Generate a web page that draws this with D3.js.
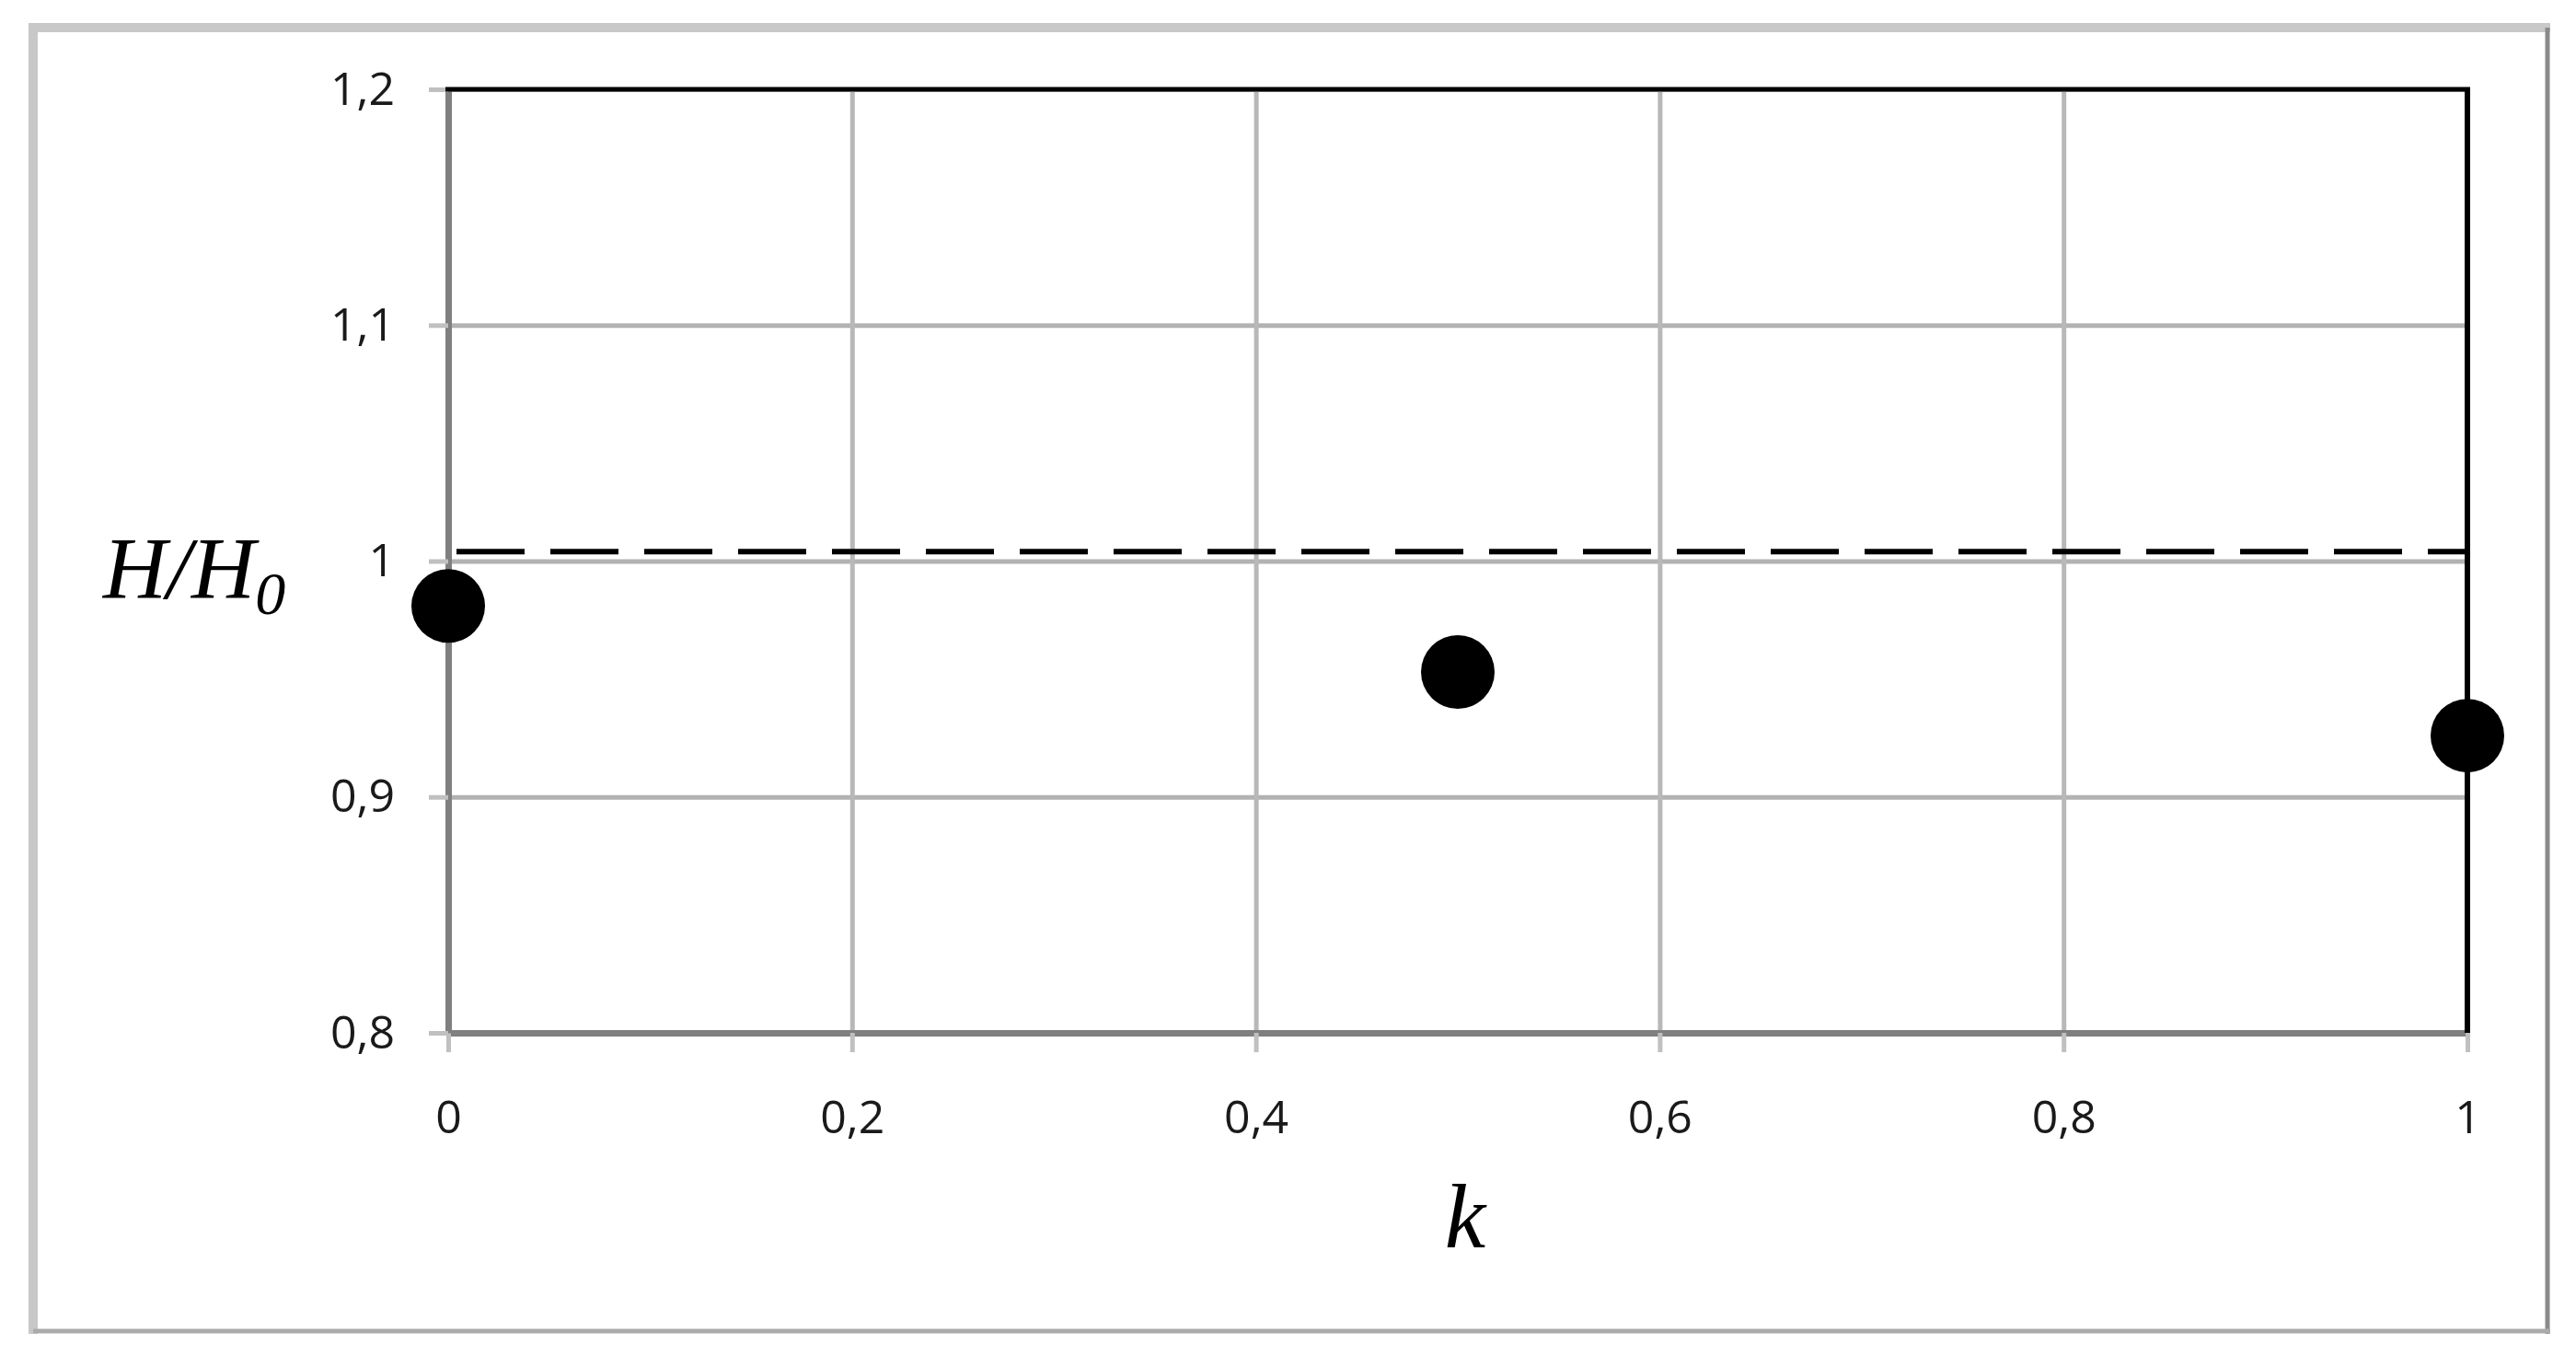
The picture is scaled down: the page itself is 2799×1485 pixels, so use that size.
<!DOCTYPE html>
<html>
<head>
<meta charset="utf-8">
<script src="https://cdn.jsdelivr.net/npm/d3@7"></script>
<style>
  body { margin: 0; background: #fff; }
  .tick text { font-family: "Open Sans", sans-serif; fill: #1a1a1a; }
</style>
</head>
<body>
<div id="chart"></div>
<script>
// measured points H/H0 against k
const kValues = [0, 0.5, 1];
const ratioValues = [0.981, 0.953, 0.926];

// dashed reference level
const refK = [0, 1];
const refRatio = [1.004, 1.004];

const xTicks = [0, 0.2, 0.4, 0.6, 0.8, 1];
const yTicks = [0.8, 0.9, 1.0, 1.1, 1.2];
const fmt = d => String(+d.toFixed(1)).replace(".", ",");

const W = 2799, H = 1485;
const margin = { top: 97, right: 118, bottom: 363, left: 487 };
const width = W - margin.left - margin.right;
const height = H - margin.top - margin.bottom;

const svgRoot = d3.select("#chart").append("svg")
  .attr("width", W)
  .attr("height", H);

// outer frame (light left/top, darker right/bottom)
svgRoot.append("line").attr("x1", 36).attr("x2", 36).attr("y1", 25).attr("y2", 1449)
  .attr("stroke", "#c8c8c8").attr("stroke-width", 10);
svgRoot.append("line").attr("x1", 31).attr("x2", 2771).attr("y1", 30).attr("y2", 30)
  .attr("stroke", "#c8c8c8").attr("stroke-width", 10);
svgRoot.append("line").attr("x1", 2768).attr("x2", 2768).attr("y1", 30).attr("y2", 1449)
  .attr("stroke", "#8a8a8a").attr("stroke-width", 5);
svgRoot.append("line").attr("x1", 36).attr("x2", 2771).attr("y1", 1446).attr("y2", 1446)
  .attr("stroke", "#ababab").attr("stroke-width", 5);

const svg = svgRoot.append("g")
  .attr("transform", "translate(" + margin.left + "," + margin.top + ")");

const x = d3.scaleLinear().domain([0, 1]).range([0, width]);
const y = d3.scaleLinear().domain([0.8, 1.2]).range([height, 0]);

// grid
svg.append("g")
  .attr("class", "grid")
  .call(d3.axisLeft(y).tickValues(yTicks).tickSize(-width).tickFormat(""))
  .call(g => g.select(".domain").remove())
  .call(g => g.selectAll("line").attr("stroke", "#b2b2b2").attr("stroke-width", 5));
svg.append("g")
  .attr("class", "grid")
  .attr("transform", "translate(0," + height + ")")
  .call(d3.axisBottom(x).tickValues(xTicks).tickSize(height).tickFormat(""))
  .call(g => g.select(".domain").remove())
  .call(g => g.selectAll("line").attr("y2", -height).attr("stroke", "#b8b8b8").attr("stroke-width", 5));

// axes
svg.append("g")
  .attr("transform", "translate(0," + height + ")")
  .call(d3.axisBottom(x).tickValues(xTicks).tickFormat(fmt).tickSize(21).tickPadding(52).tickSizeOuter(0))
  .call(g => g.select(".domain").attr("stroke", "#7f7f7f").attr("stroke-width", 7))
  .call(g => g.selectAll(".tick line").attr("stroke", "#c0c0c0").attr("stroke-width", 5))
  .call(g => g.selectAll(".tick text").style("font-size", "50px"));

svg.append("g")
  .call(d3.axisLeft(y).tickValues(yTicks).tickFormat(fmt).tickSize(21).tickPadding(37).tickSizeOuter(0))
  .call(g => g.select(".domain").attr("stroke", "#7f7f7f").attr("stroke-width", 7))
  .call(g => g.selectAll(".tick line").attr("stroke", "#c0c0c0").attr("stroke-width", 5))
  .call(g => g.selectAll(".tick text").style("font-size", "50px"));

// top and right border in black
svg.append("line")
  .attr("x1", x(0) - 3).attr("x2", x(1) + 3)
  .attr("y1", y(1.2)).attr("y2", y(1.2))
  .attr("stroke", "#000").attr("stroke-width", 5);
svg.append("line")
  .attr("x1", x(1)).attr("x2", x(1))
  .attr("y1", y(1.2)).attr("y2", y(0.8))
  .attr("stroke", "#000").attr("stroke-width", 6);

// dashed reference line
const refData = refK.map((k, i) => ({ k: k, v: refRatio[i] }));
svg.append("path")
  .datum(refData)
  .attr("fill", "none")
  .attr("stroke", "#000")
  .attr("stroke-width", 6)
  .attr("stroke-dasharray", "74,28")
  .attr("stroke-dashoffset", -9)
  .attr("d", d3.line().x(d => x(d.k)).y(d => y(d.v)));

// points
const pts = kValues.map((k, i) => ({ k: k, v: ratioValues[i] }));
svg.selectAll(".dot")
  .data(pts)
  .enter()
  .append("circle")
  .attr("class", "dot")
  .attr("cx", d => x(d.k))
  .attr("cy", d => y(d.v))
  .attr("r", 40)
  .attr("fill", "#000");

// axis titles
const yTitle = svgRoot.append("text")
  .attr("x", 112)
  .attr("y", 650)
  .style("font-family", "'Liberation Serif', 'Times New Roman', serif")
  .style("font-style", "italic")
  .style("font-size", "96px")
  .attr("fill", "#000");
yTitle.append("tspan").text("H/H");
yTitle.append("tspan").attr("dy", 17).style("font-size", "66px").text("0");

svgRoot.append("text")
  .attr("x", margin.left + x(0.5) + 8)
  .attr("y", 1355)
  .attr("text-anchor", "middle")
  .style("font-family", "'Liberation Serif', 'Times New Roman', serif")
  .style("font-style", "italic")
  .style("font-size", "100px")
  .attr("fill", "#000")
  .text("k");
</script>
</body>
</html>
